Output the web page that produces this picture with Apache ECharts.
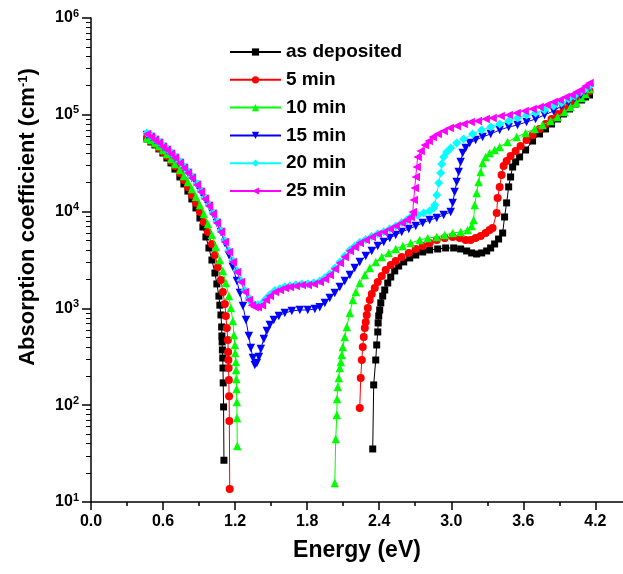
<!DOCTYPE html>
<html>
<head>
<meta charset="utf-8">
<script src="https://cdn.jsdelivr.net/npm/echarts@6/dist/echarts.min.js"></script>
<style>
html,body{margin:0;padding:0;background:#fff;}
#chart{width:623px;height:574px;}
</style>
</head>
<body>
<div id="chart"></div>
<script>
// ---- data: energy (eV) and absorption coefficient (cm^-1); null = no value (gap) ----
const seriesNames = ['as deposited', '5 min', '10 min', '15 min', '20 min', '25 min'];

const asDepE = [0.466,0.499,0.532,0.566,0.599,0.632,0.666,0.699,0.740,0.774,0.807,0.840,0.874,0.907,0.932,0.957,0.982,1.007,1.032,1.048,1.065,1.073,1.082,1.088,1.090,1.092,1.094,1.097,1.099,1.101,1.104,1.107,
  1.7,
  2.346,2.354,2.371,2.379,2.388,2.391,2.396,2.404,2.413,2.429,2.446,2.471,2.496,2.529,2.562,2.604,2.654,2.704,2.762,2.820,2.887,2.953,3.020,3.078,3.128,3.170,3.211,3.253,3.295,3.328,3.361,3.394,3.428,3.444,3.461,3.478,3.494,3.511,3.536,3.569,3.619,3.677,3.735,3.785,3.835,3.885,3.935,3.985,4.035,4.085,4.118,4.151];
const asDepV = [56300,52400,48800,44400,40300,35800,31800,27500,22800,19300,16300,13500,10900,8590,6930,5470,4210,3160,2320,1790,1340,1080,855,643,519,450,372,307,242,170,96,27,
  null,
  35.3,162,293,419,571,707,835,963,1140,1340,1550,1830,2110,2440,2740,3020,3320,3560,3830,4010,4110,4210,4210,4110,3920,3740,3650,3740,3920,4210,4630,5210,6010,8800,12300,18000,22800,28900,32600,36700,43300,53600,63400,71400,80400,90500,102000,114800,129400,142200,152800,160200];

const min5E = [0.466,0.499,0.532,0.566,0.599,0.632,0.666,0.699,0.740,0.774,0.807,0.840,0.874,0.907,0.940,0.973,1.007,1.032,1.057,1.082,1.098,1.115,1.123,1.131,1.140,1.142,1.144,1.146,1.148,1.150,1.152,1.155,
  1.7,
  2.238,2.246,2.255,2.263,2.271,2.280,2.288,2.296,2.305,2.321,2.338,2.363,2.388,2.421,2.454,2.496,2.537,2.587,2.646,2.704,2.762,2.820,2.879,2.945,3.012,3.070,3.120,3.161,3.203,3.245,3.286,3.319,3.344,3.378,3.386,3.403,3.419,3.436,3.461,3.494,3.536,3.577,3.627,3.677,3.735,3.785,3.835,3.885,3.935,3.985,4.035,4.077,4.118,4.151];
const min5V = [57600,53600,49900,45400,41300,37500,33300,29600,25100,21200,18000,14800,12300,9910,7810,6160,4630,3560,2680,1970,1480,1110,835,628,472,355,293,242,182,124,68.7,13.6,
  null,
  93.6,191,293,399,507,628,724,855,1010,1220,1410,1620,1870,2160,2490,2810,3090,3400,3740,4110,4410,4740,5090,5340,5470,5340,5090,5090,5340,5600,6010,6460,6770,9680,13800,18000,23900,29600,33300,37500,42300,47600,54900,61900,71400,80400,90500,102000,114800,126300,142200,152800,164100,176200];

const min10E = [0.466,0.499,0.532,0.566,0.599,0.632,0.666,0.699,0.740,0.774,0.807,0.840,0.874,0.907,0.940,0.973,1.007,1.040,1.073,1.098,1.123,1.148,1.165,1.181,1.190,1.198,1.200,1.206,1.208,1.210,1.212,1.214,1.216,1.218,
  1.7,
  2.030,2.038,2.047,2.049,2.055,2.063,2.072,2.080,2.088,2.097,2.113,2.130,2.155,2.180,2.205,2.238,2.280,2.321,2.371,2.421,2.479,2.537,2.596,2.662,2.737,2.804,2.879,2.945,3.012,3.078,3.136,3.170,3.186,3.195,3.211,3.228,3.245,3.261,3.286,3.319,3.361,3.403,3.469,3.544,3.619,3.694,3.760,3.827,3.885,3.943,3.993,4.043,4.085,4.118,4.151];
const min10V = [57600,54900,51100,47600,43300,39400,35000,31000,26900,23300,20200,17100,14200,11700,9450,7450,5730,4310,3160,2440,1830,1340,1010,741,531,419,346,280,231,187,147,108,73.8,37.9,
  null,
  15.7,44.8,79.2,116,154,191,242,280,330,399,507,643,897,1220,1480,1830,2210,2620,3020,3400,3740,4110,4410,4740,5090,5340,5470,5730,6010,6160,6460,7100,8190,11700,15600,20200,25700,31800,36700,40300,43300,46500,52400,59000,64900,71400,78500,86300,94900,106900,120400,132500,149200,164100,184800];

const min15E = [0.466,0.499,0.532,0.566,0.599,0.632,0.666,0.699,0.740,0.774,0.807,0.840,0.882,0.915,0.948,0.982,1.015,1.048,1.082,
  1.115,1.148,1.181,1.215,1.240,1.265,1.290,1.314,1.331,1.348,1.364,1.381,1.398,1.414,1.439,1.464,1.489,1.522,1.564,1.614,1.672,1.739,1.805,1.864,1.905,1.947,1.988,2.030,2.072,2.113,2.155,2.196,2.238,2.288,2.338,2.388,2.438,2.488,2.537,2.587,2.646,2.704,2.762,2.820,2.879,2.937,2.995,
  3.012,3.028,3.045,3.062,3.078,3.095,
  3.120,3.153,3.203,3.261,3.328,3.403,3.478,3.552,3.627,3.702,3.777,3.852,3.918,3.977,4.027,4.077,4.118,4.151];
const min15V = [61800,59000,54900,51100,46500,43300,39400,35800,31800,28200,25100,22200,18800,15900,13500,11400,9450,7630,6160,
  4740,3560,2680,1920,1440,1060,759,519,390,307,260,273,315,381,483,584,674,759,835,897,940,963,963,986,1030,1140,1280,1440,1660,1920,2210,2620,3020,3480,3920,4410,4860,5340,5730,6160,6610,7100,7630,8190,8590,9230,9910,
  12300,15900,20200,25700,32600,40300,
  45400,51100,54900,59000,63400,69700,74800,78500,84300,90500,99600,109500,123300,135600,149200,160200,176200,189200];

const min20E = [0.466,0.499,0.532,0.566,0.599,0.632,0.666,0.699,0.740,0.774,0.807,0.840,0.882,0.915,0.948,0.982,1.015,1.048,1.082,1.115,1.148,1.181,1.215,1.248,1.281,1.314,1.339,1.364,
  1.389,1.423,1.456,1.489,1.531,1.572,1.614,1.656,1.706,1.755,1.805,1.855,1.905,1.947,1.988,2.030,2.072,2.113,2.155,2.196,2.238,2.288,2.338,2.388,2.438,2.488,2.537,2.587,2.629,2.662,
  2.679,2.720,2.770,2.820,2.854,2.862,2.879,2.895,2.912,2.920,2.937,2.962,2.995,3.045,3.103,3.178,3.253,3.328,3.403,3.478,3.552,3.627,3.702,3.777,3.852,3.918,3.977,4.027,4.077,4.118,4.151];
const min20V = [65000,60900,56800,52800,48100,44800,40700,37000,32900,29200,26000,23000,19500,16500,14000,11800,9780,7900,6380,5030,3960,3130,2470,1940,1540,1280,1140,1090,
  1090,1130,1260,1380,1530,1600,1670,1710,1750,1790,1800,1840,1920,2070,2270,2610,3020,3480,4000,4390,4810,5150,5520,5910,6200,6640,7120,7650,8200,8800,
  9010,9230,9680,10150,10900,11700,14800,19800,25100,31000,36700,41300,45400,51100,56300,63400,69700,74800,80400,86300,92700,99600,104400,112100,123300,132500,145700,156400,172100,184800,198500];

const min25E = [0.466,0.499,0.532,0.566,0.599,0.632,0.666,0.699,0.740,0.774,0.807,0.840,0.882,0.915,0.948,0.982,1.015,1.048,1.082,1.115,1.148,1.181,1.215,1.248,1.281,1.314,1.339,1.364,
  1.389,1.423,1.456,1.489,1.531,1.572,1.614,1.656,1.706,1.755,1.805,1.855,1.905,1.947,1.988,2.030,2.072,2.113,2.155,2.196,2.238,2.288,2.338,2.388,2.438,2.488,2.537,2.587,2.629,2.662,
  2.679,2.687,2.696,2.704,2.712,2.720,
  2.745,2.779,2.812,2.845,2.887,2.937,2.987,3.045,3.103,3.161,3.220,3.286,3.344,3.411,3.478,3.544,3.611,3.677,3.735,3.794,3.852,3.902,3.952,4.002,4.043,4.077,4.118,4.151];
const min25V = [63400,59000,54900,51100,46500,43300,39400,35800,31800,28200,25100,22200,18800,15900,13500,11400,9450,7630,6160,4860,3830,3020,2380,1870,1480,1220,1080,1030,
  1030,1080,1220,1340,1480,1550,1620,1660,1700,1740,1740,1790,1870,2010,2210,2550,2950,3400,3920,4310,4740,5090,5470,5870,6160,6610,7100,7630,8190,8800,
  9910,13200,17500,22800,28900,36700,
  42300,48800,53600,59000,63400,68100,73100,76600,80400,84300,86300,90500,92700,97200,99600,104400,109500,114800,120400,126300,135600,142200,152800,160200,172100,180500,198500,213200];

// tick values
const xMajorTicks = [0.0,0.6,1.2,1.8,2.4,3.0,3.6,4.2];
const xMinorTicks = [0.3,0.9,1.5,2.1,2.7,3.3,3.9];
const yMajorTicks = [1e1,1e2,1e3,1e4,1e5,1e6];
const yMinorTicks = [20,30,40,50,60,70,80,90,200,300,400,500,600,700,800,900,2000,3000,4000,5000,6000,7000,8000,9000,20000,30000,40000,50000,60000,70000,80000,90000,200000,300000,400000,500000,600000,700000,800000,900000];

// ---- chart ----
const pairs = (e, v) => e.map((x, i) => [x, v[i]]);
const colors = ['#000000', '#ff0000', '#00ff00', '#0000ff', '#00ffff', '#ff00ff'];
const symbols = ['rect', 'circle', 'triangle', 'triangle', 'diamond', 'triangle'];
const rotates = [0, 0, 0, 180, 0, 90];
const sizes = [7, 8, 8.5, 8.5, 9, 8.5];
const datasets = [pairs(asDepE, asDepV), pairs(min5E, min5V), pairs(min10E, min10V),
                  pairs(min15E, min15V), pairs(min20E, min20V), pairs(min25E, min25V)];

const FONT = 'Liberation Sans, Arial, sans-serif';

const series = seriesNames.map((name, i) => ({
  name: name,
  type: 'line',
  xAxisIndex: 0,
  yAxisIndex: 0,
  data: datasets[i],
  symbol: symbols[i],
  symbolRotate: rotates[i],
  symbolSize: sizes[i],
  showAllSymbol: true,
  connectNulls: false,
  lineStyle: { color: colors[i], width: 1 },
  itemStyle: { color: colors[i], borderWidth: 0 },
  emphasis: { disabled: true },
  z: 2 + i
}));

const chart = echarts.init(document.getElementById('chart'), null, { renderer: 'canvas' });
chart.setOption({
  animation: false,
  backgroundColor: '#ffffff',
  textStyle: { fontFamily: FONT },
  grid: { left: 91, top: 18, right: 0, bottom: 72, containLabel: false },
  legend: {
    orient: 'vertical',
    left: 229,
    top: 42.5,
    padding: 0,
    itemWidth: 51,
    itemHeight: 9,
    itemGap: 8.8,
    data: seriesNames,
    textStyle: { fontFamily: FONT, fontSize: 19, fontWeight: 'bold', color: '#000', lineHeight: 19 }
  },
  xAxis: [{
    type: 'value',
    min: 0,
    max: 4.43,
    position: 'bottom',
    name: 'Energy (eV)',
    nameLocation: 'middle',
    nameGap: 37,
    nameTextStyle: { fontFamily: FONT, fontSize: 23, fontWeight: 'bold', color: '#000' },
    axisLine: { show: true, onZero: false, lineStyle: { color: '#000', width: 1.5 } },
    axisTick: { show: true, length: 8, lineStyle: { color: '#000', width: 1.5 }, customValues: xMajorTicks },
    axisLabel: { customValues: xMajorTicks, margin: 12, fontFamily: FONT, fontSize: 16, fontWeight: 'bold', color: '#000',
                 formatter: v => v.toFixed(1) },
    splitLine: { show: false }
  }, {
    type: 'value',
    min: 0,
    max: 4.43,
    position: 'bottom',
    axisLine: { show: false },
    axisTick: { show: true, length: 4, lineStyle: { color: '#000', width: 1.5 }, customValues: xMinorTicks },
    axisLabel: { show: false },
    splitLine: { show: false }
  }],
  yAxis: [{
    type: 'log',
    logBase: 10,
    min: 10,
    max: 1e6,
    position: 'left',
    name: 'Absorption coefficient (cm{s|-1})',
    nameLocation: 'middle',
    nameGap: 52,
    nameTextStyle: { fontFamily: FONT, fontSize: 22, fontWeight: 'bold', color: '#000', padding: [0, 0, 0, 86],
      rich: { s: { fontFamily: FONT, fontSize: 13, fontWeight: 'bold', color: '#000', verticalAlign: 'top', lineHeight: 13 } } },
    axisLine: { show: true, onZero: false, lineStyle: { color: '#000', width: 1.5 } },
    axisTick: { show: true, length: 9, lineStyle: { color: '#000', width: 1.5 }, customValues: yMajorTicks },
    axisLabel: {
      customValues: yMajorTicks, margin: 12,
      formatter: v => '{b|10}{s|' + Math.round(Math.log10(v)) + '}',
      rich: {
        b: { fontFamily: FONT, fontSize: 16, fontWeight: 'bold', color: '#000', lineHeight: 20 },
        s: { fontFamily: FONT, fontSize: 11, fontWeight: 'bold', color: '#000', verticalAlign: 'top', lineHeight: 12 }
      }
    },
    splitLine: { show: false }
  }, {
    type: 'log',
    logBase: 10,
    min: 10,
    max: 1e6,
    position: 'left',
    axisLine: { show: false },
    axisTick: { show: true, length: 5, lineStyle: { color: '#000', width: 1 }, customValues: yMinorTicks },
    axisLabel: { show: false },
    splitLine: { show: false }
  }],
  series: series
});
</script>
</body>
</html>
